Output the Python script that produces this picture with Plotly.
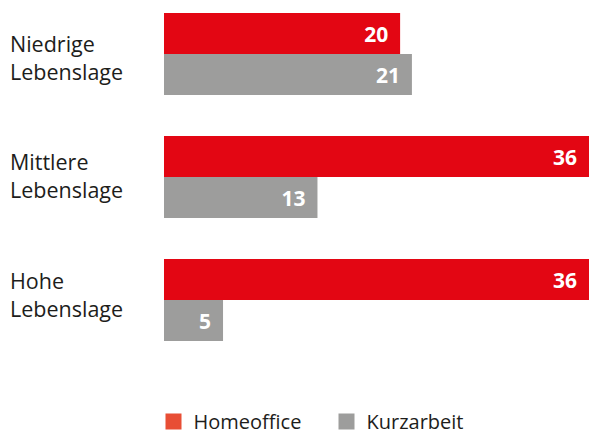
import plotly.graph_objects as go

categories = ["Niedrige<br>Lebenslage", "Mittlere<br>Lebenslage", "Hohe<br>Lebenslage"]
homeoffice = [20, 36, 36]
kurzarbeit = [21, 13, 5]
series_names = ["Homeoffice", "Kurzarbeit"]

RED = "#e30613"
GRAY = "#9d9d9c"
LEGEND_RED = "#e84e35"
TEXT = "#1d1d1b"
FONT = "Open Sans"
LABEL_YSHIFT = [-3, 2, 6]  # category labels sit slightly higher down the chart

ypos = list(range(len(categories)))

fig = go.Figure()
for vals, color, off in [(homeoffice, RED, -0.1667), (kurzarbeit, GRAY, 0.1667)]:
    fig.add_trace(go.Bar(
        y=[p + off for p in ypos], x=vals, orientation="h",
        width=0.3333, marker=dict(color=color, line=dict(width=0)),
        texttemplate="<b>%{x}</b>\u00a0\u2009", textposition="inside",
        insidetextanchor="end",
        textfont=dict(color="white", size=21, family=FONT),
        showlegend=False, hoverinfo="skip",
    ))

for name, color in zip(series_names, [LEGEND_RED, GRAY]):
    fig.add_trace(go.Scatter(
        x=[None], y=[None], mode="markers", name=name,
        marker=dict(symbol="square", size=16, color=color),
    ))

for i, cat in enumerate(categories):
    fig.add_annotation(
        text=cat, xref="paper", yref="y", x=-156 / 425, y=i,
        xanchor="left", yanchor="middle", align="left", showarrow=False,
        yshift=LABEL_YSHIFT[i], font=dict(size=21.5, color=TEXT, family=FONT),
    )

fig.update_layout(
    width=589, height=441,
    margin=dict(l=164, r=0, t=10, b=61, autoexpand=False),
    paper_bgcolor="white", plot_bgcolor="white",
    font=dict(family=FONT, color=TEXT),
    xaxis=dict(range=[0, 36], visible=False, fixedrange=True),
    yaxis=dict(range=[2.65, -0.358], visible=False, fixedrange=True),
    showlegend=True,
    legend=dict(orientation="h", xref="container", yref="container",
                x=153.5 / 589, xanchor="left", y=-4 / 441,
                yanchor="bottom", font=dict(size=20, color=TEXT, family=FONT),
                entrywidth=128, itemclick=False, itemdoubleclick=False),
)

fig.write_html(
    "out.html",
    config={"displayModeBar": False, "staticPlot": True},
    post_script="document.body.style.margin='0';document.body.style.overflow='hidden';",
)
